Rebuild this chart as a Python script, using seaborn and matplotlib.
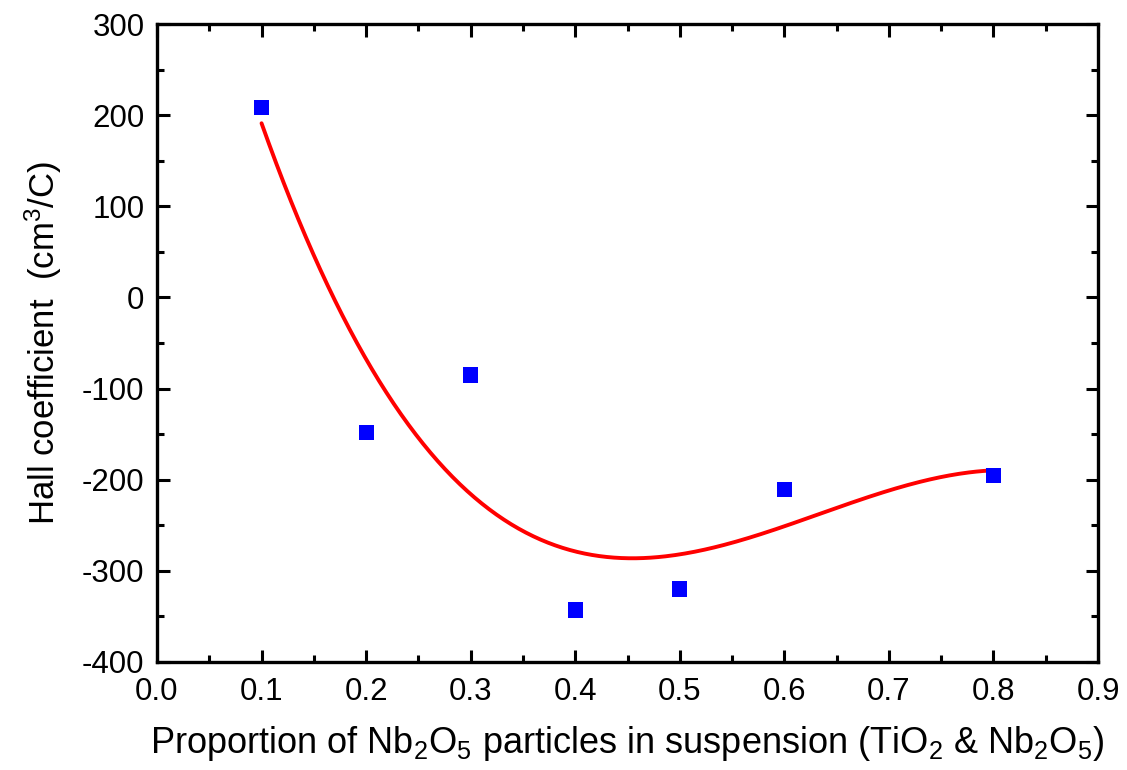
import numpy as np
import pandas as pd
import matplotlib
matplotlib.use("Agg")
import matplotlib.pyplot as plt
import seaborn as sns
from matplotlib.ticker import MultipleLocator

# Data
proportion = [0.1, 0.2, 0.3, 0.4, 0.5, 0.6, 0.8]
hall_coeff = [208, -148, -85, -343, -320, -211, -195]
x_ticks = [0.0, 0.1, 0.2, 0.3, 0.4, 0.5, 0.6, 0.7, 0.8, 0.9]
y_ticks = [-400, -300, -200, -100, 0, 100, 200, 300]

sns.set_theme(style="ticks")
plt.rcParams['font.family'] = ['Liberation Sans', 'DejaVu Sans']
plt.rcParams['mathtext.fontset'] = 'custom'
plt.rcParams['mathtext.rm'] = 'Liberation Sans'
plt.rcParams['mathtext.it'] = 'Liberation Sans'
plt.rcParams['text.color'] = 'black'
plt.rcParams['axes.labelcolor'] = 'black'

df = pd.DataFrame({"x": proportion, "y": hall_coeff})

# cubic polynomial fit of the data (as in the original)
coef = np.polyfit(df["x"], df["y"], 3)
xf = np.linspace(min(proportion), max(proportion), 300)
fit = pd.DataFrame({"x": xf, "y": np.polyval(coef, xf)})

fig = plt.figure(figsize=(11.27, 7.7), dpi=100)
ax = fig.add_axes([0.1393, 0.1403, 0.835, 0.8285])

sns.lineplot(data=fit, x="x", y="y", ax=ax, color="#ff0000", linewidth=2.8, zorder=2)
sns.scatterplot(data=df, x="x", y="y", ax=ax, marker="s", s=120, color="#0000ff",
                edgecolor="none", linewidth=0, zorder=3)

ax.set_xlim(0, 0.9)
ax.set_ylim(-400, 300)
ax.set_xticks(x_ticks)
ax.set_yticks(y_ticks)
ax.set_xticklabels([f"{v:.1f}" for v in x_ticks])
ax.set_yticklabels([str(v) for v in y_ticks])
ax.xaxis.set_minor_locator(MultipleLocator(0.05))
ax.yaxis.set_minor_locator(MultipleLocator(50))
ax.tick_params(which="major", direction="in", length=9, width=2.2, labelsize=22.5,
               top=True, right=True, colors="black")
ax.tick_params(which="minor", direction="in", length=5, width=2.2,
               top=True, right=True, colors="black")
ax.tick_params(axis="x", which="major", pad=11)
ax.tick_params(axis="y", which="major", pad=9)
for sp in ax.spines.values():
    sp.set_linewidth(2.4)
    sp.set_color("black")

ax.set_xlabel(r"Proportion of Nb$_2$O$_5$ particles in suspension (TiO$_2$ & Nb$_2$O$_5$)",
              fontsize=26, labelpad=12)
ax.set_ylabel(r"Hall coefficient  (cm$^3$/C)", fontsize=25, labelpad=13)

fig.savefig("out.png", dpi=100)
